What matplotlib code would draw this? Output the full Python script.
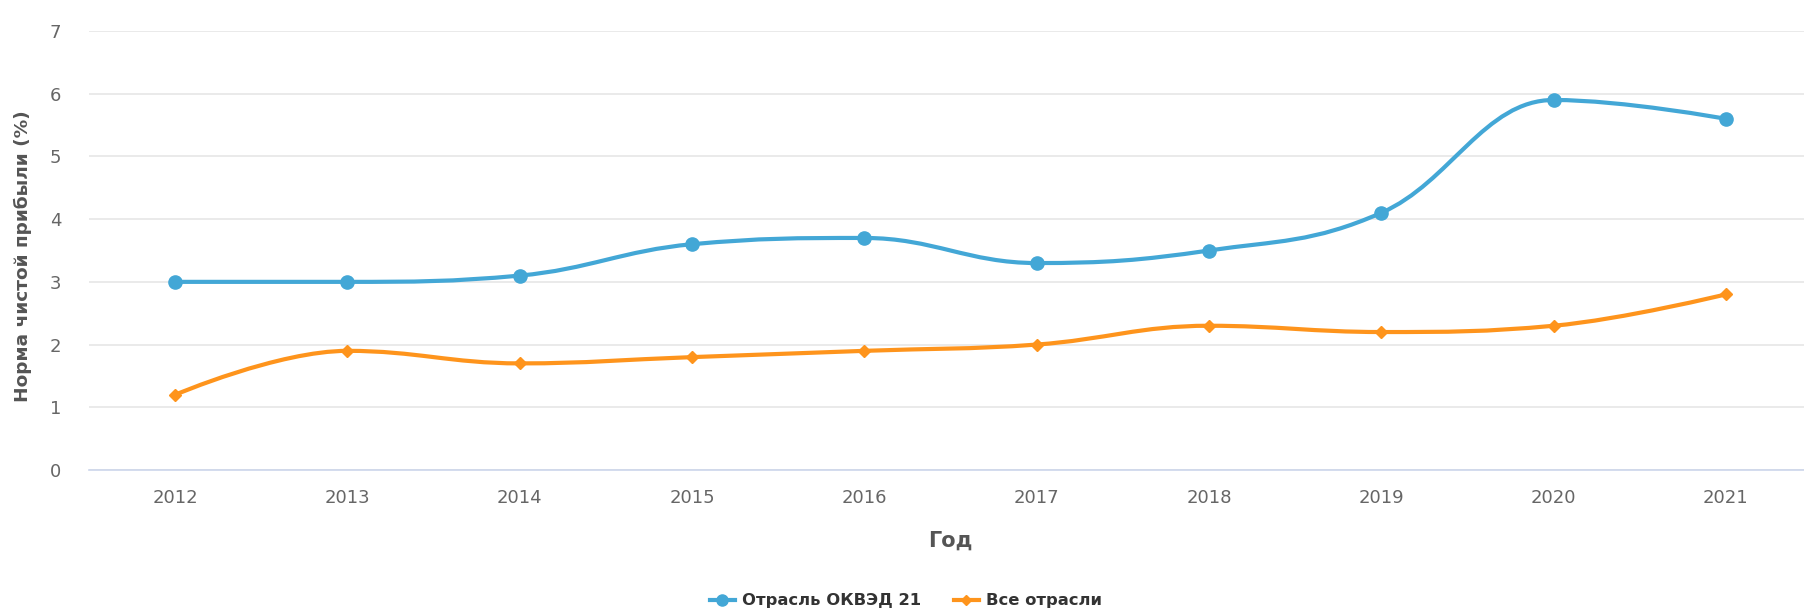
import numpy as np
import matplotlib
matplotlib.use("Agg")
import matplotlib.pyplot as plt
from matplotlib.path import Path
from matplotlib.patches import PathPatch
from matplotlib.lines import Line2D

# data
years = ["2012", "2013", "2014", "2015", "2016", "2017", "2018", "2019", "2020", "2021"]
okved21 = [3.0, 3.0, 3.1, 3.6, 3.7, 3.3, 3.5, 4.1, 5.9, 5.6]
all_industries = [1.2, 1.9, 1.7, 1.8, 1.9, 2.0, 2.3, 2.2, 2.3, 2.8]

series_names = ["Отрасль ОКВЭД 21", "Все отрасли"]
BLUE = "#43a7d6"
ORANGE = "#fe941c"


def spline_path(xs, ys, smoothing=1.5):
    # highcharts style spline: bezier control points from neighbours
    n = len(xs)
    left = [None] * n
    right = [None] * n
    for i in range(n):
        x, y = xs[i], ys[i]
        if i == 0 or i == n - 1:
            left[i] = (x, y)
            right[i] = (x, y)
            continue
        lx, ly = xs[i - 1], ys[i - 1]
        nx, ny = xs[i + 1], ys[i + 1]
        d = smoothing + 1
        lcx = (smoothing * x + lx) / d
        lcy = (smoothing * y + ly) / d
        rcx = (smoothing * x + nx) / d
        rcy = (smoothing * y + ny) / d
        if rcx != lcx:
            corr = ((rcy - lcy) * (rcx - x)) / (rcx - lcx) + y - rcy
            lcy += corr
            rcy += corr
        if lcy > ly and lcy > y:
            lcy = max(ly, y)
            rcy = 2 * y - lcy
        elif lcy < ly and lcy < y:
            lcy = min(ly, y)
            rcy = 2 * y - lcy
        if rcy > ny and rcy > y:
            rcy = max(ny, y)
            lcy = 2 * y - rcy
        elif rcy < ny and rcy < y:
            rcy = min(ny, y)
            lcy = 2 * y - rcy
        left[i] = (lcx, lcy)
        right[i] = (rcx, rcy)
    verts = [(xs[0], ys[0])]
    codes = [Path.MOVETO]
    for i in range(1, n):
        verts += [right[i - 1], left[i], (xs[i], ys[i])]
        codes += [Path.CURVE4] * 3
    return Path(verts, codes)


W, H = 1804, 614
fig = plt.figure(figsize=(W / 100, H / 100), dpi=100)
# plot area runs a little past the right edge, as in the reference
ax = fig.add_axes([89 / W, 1 - 470 / H, (1812 - 89) / W, (470 - 31) / H])

x = np.arange(len(years))
for vals, col, mk, ms in [(okved21, BLUE, "o", 9.5), (all_industries, ORANGE, "D", 6)]:
    p = spline_path(list(x), vals)
    ax.add_patch(PathPatch(p, facecolor="none", edgecolor=col, lw=3, zorder=3,
                           capstyle="round"))
    ax.plot(x, vals, linestyle="none", marker=mk, ms=ms, color=col, zorder=4)

ax.set_xlim(-0.5, len(years) - 0.5)
ax.set_ylim(0, 7)
ax.set_yticks(range(0, 8))
ax.set_xticks(x)
ax.set_xticklabels(years)
ax.grid(axis="y", color="#e6e6e6", lw=1.2)
ax.set_axisbelow(True)
for s in ["top", "right", "left"]:
    ax.spines[s].set_visible(False)
ax.spines["bottom"].set_color("#ccd6eb")
ax.spines["bottom"].set_linewidth(1.2)
ax.tick_params(axis="both", length=0, labelsize=13, labelcolor="#666666")
ax.tick_params(axis="y", pad=20)
ax.tick_params(axis="x", pad=14)

fig.text(23 / W, 1 - 256 / H, "Норма чистой прибыли (%)", rotation=90,
         ha="center", va="center", fontsize=13.3, fontweight="bold", color="#555555")
fig.text(950 / W, 1 - 541 / H, "Год", ha="center", va="center",
         fontsize=15, fontweight="bold", color="#555555")

handles = [
    Line2D([0], [0], color=BLUE, lw=3, marker="o", ms=8),
    Line2D([0], [0], color=ORANGE, lw=3, marker="D", ms=5),
]
fig.legend(handles, series_names, loc="center", bbox_to_anchor=(906 / W, 1 - 601 / H),
           ncol=2, frameon=False, handlelength=1.5, columnspacing=2.0, handletextpad=0.45,
           prop={"size": 11.8, "weight": "bold"}, labelcolor="#333333")

fig.savefig("out.png", dpi=100, facecolor="white")
